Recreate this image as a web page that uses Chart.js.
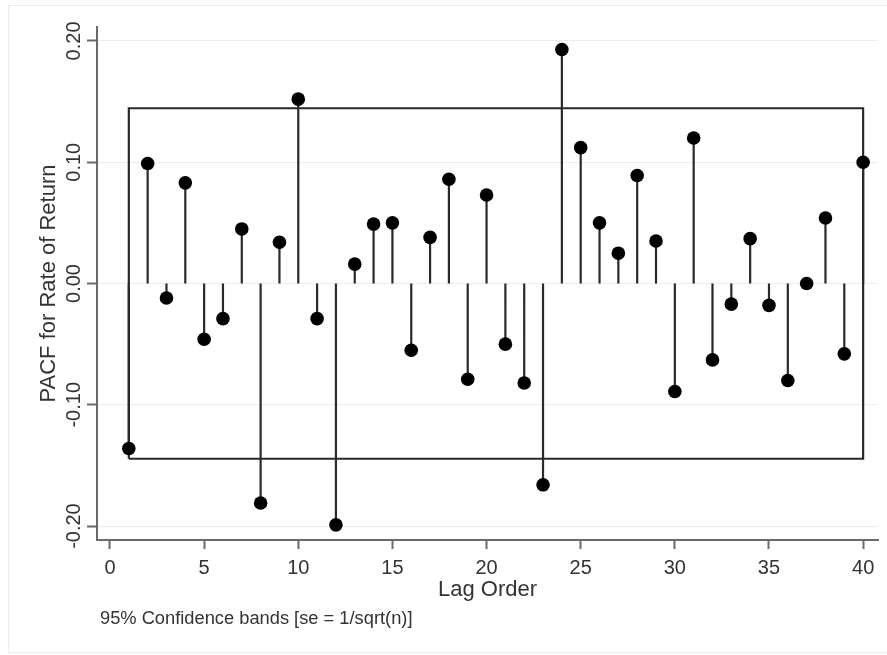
<!DOCTYPE html>
<html>
<head>
<meta charset="utf-8">
<script src="https://cdn.jsdelivr.net/npm/chart.js@4.4.1/dist/chart.umd.min.js"></script>
<style>
	body { margin: 0; background: #fff; }
	canvas { display: block; }
</style>
</head>
<body>
<canvas id="grafico" width="887" height="655"></canvas>
<script>
// defasagens e valores da PACF
const lags = [1, 2, 3, 4, 5, 6, 7, 8, 9, 10, 11, 12, 13, 14, 15, 16, 17, 18, 19, 20,
	21, 22, 23, 24, 25, 26, 27, 28, 29, 30, 31, 32, 33, 34, 35, 36, 37, 38, 39, 40];
const pacf = [-0.136, 0.099, -0.012, 0.083, -0.046, -0.029, 0.045, -0.181, 0.034, 0.152,
	-0.029, -0.199, 0.016, 0.049, 0.050, -0.055, 0.038, 0.086, -0.079, 0.073,
	-0.050, -0.082, -0.166, 0.193, 0.112, 0.050, 0.025, 0.089, 0.035, -0.089,
	0.120, -0.063, -0.017, 0.037, -0.018, -0.080, 0.000, 0.054, -0.058, 0.100];

// faixa de confiança de 95%
const faixaLags = [1, 40];
const faixaValor = 0.1445;

const xTicks = [0, 5, 10, 15, 20, 25, 30, 35, 40];
const yTicks = [-0.2, -0.1, 0, 0.1, 0.2];

const nota = '95% Confidence bands [se = 1/sqrt(n)]';
const corTexto = '#333';
const corEixo = '#6a6a6a';
const fonte = '"Liberation Sans", Arial, sans-serif';

// cada haste vai de zero ao valor, com um null para quebrar a linha
function montaHastes() {
	const pontos = [];
	lags.forEach((lag, i) => {
		pontos.push({ x: lag, y: 0 }, { x: lag, y: pacf[i] }, { x: lag, y: null });
	});
	return pontos;
}

function montaFaixa() {
	const [ini, fim] = faixaLags;
	return [
		{ x: ini, y: -faixaValor },
		{ x: ini, y: faixaValor },
		{ x: fim, y: faixaValor },
		{ x: fim, y: -faixaValor },
		{ x: ini, y: -faixaValor }
	];
}

const pluginTextos = {
	id: 'textos',
	beforeDraw(chart) {
		const ctx = chart.ctx;
		ctx.save();
		ctx.fillStyle = '#fff';
		ctx.fillRect(0, 0, chart.width, chart.height);
		ctx.strokeStyle = '#ececec';
		ctx.lineWidth = 1;
		ctx.beginPath();
		ctx.moveTo(887, 5.5);
		ctx.lineTo(8.5, 5.5);
		ctx.lineTo(8.5, 652.5);
		ctx.lineTo(887, 652.5);
		ctx.stroke();
		ctx.restore();
	},
	afterDraw(chart) {
		const ctx = chart.ctx;
		const escalaY = chart.scales.y;
		ctx.save();
		ctx.fillStyle = corTexto;
		ctx.font = '20px ' + fonte;
		ctx.textAlign = 'center';
		ctx.textBaseline = 'middle';
		// rótulos do eixo Y girados, como no Stata
		escalaY.ticks.forEach(t => {
			const py = escalaY.getPixelForValue(t.value);
			ctx.save();
			ctx.translate(escalaY.right - 23, py);
			ctx.rotate(-Math.PI / 2);
			ctx.fillText(t.value.toFixed(2), 0, 0);
			ctx.restore();
		});
		ctx.font = '18.3px ' + fonte;
		ctx.textAlign = 'left';
		ctx.fillText(nota, chart.chartArea.left + 3, 619);
		ctx.restore();
	}
};

function montaGrafico() {
	const ctx = document.getElementById('grafico').getContext('2d');
	return new Chart(ctx, {
		type: 'scatter',
		data: {
			datasets: [
				{
					label: 'PACF',
					data: lags.map((lag, i) => ({ x: lag, y: pacf[i] })),
					backgroundColor: '#000',
					borderWidth: 0,
					pointRadius: 6.8,
					order: 0
				},
				{
					label: 'hastes',
					data: montaHastes(),
					showLine: true,
					spanGaps: false,
					borderColor: '#2a2a2a',
					borderWidth: 2.2,
					pointRadius: 0,
					order: 1
				},
				{
					label: 'faixa',
					data: montaFaixa(),
					showLine: true,
					borderColor: '#2a2a2a',
					borderWidth: 2.2,
					pointRadius: 0,
					order: 2
				}
			]
		},
		options: {
			responsive: false,
			animation: false,
			layout: {
				padding: { left: 0, right: 9, top: 27, bottom: 52 }
			},
			scales: {
				x: {
					type: 'linear',
					min: -0.69,
					max: 40.79,
					offset: false,
					afterBuildTicks: s => { s.ticks = xTicks.map(v => ({ value: v })); },
					afterFit: s => { s.height = 63; },
					grid: {
						drawOnChartArea: false,
						drawTicks: true,
						tickLength: 9,
						tickColor: corEixo,
						tickWidth: 2
					},
					border: { color: corEixo, width: 2 },
					ticks: {
						color: corTexto,
						font: { family: fonte, size: 20 },
						padding: 7,
						maxRotation: 0,
						callback: v => String(v)
					},
					title: {
						display: true,
						text: 'Lag Order',
						color: corTexto,
						font: { family: fonte, size: 22 },
						padding: { top: 0, bottom: 0 }
					}
				},
				y: {
					min: -0.2115,
					max: 0.2115,
					afterBuildTicks: s => { s.ticks = yTicks.map(v => ({ value: v })); },
					afterFit: s => { s.width = 97; },
					grid: {
						color: '#e6eff0',
						lineWidth: 1,
						drawTicks: true,
						tickLength: 10,
						tickColor: corEixo,
						tickWidth: 2
					},
					border: { color: corEixo, width: 2 },
					ticks: { display: false },
					title: {
						display: true,
						text: 'PACF for Rate of Return',
						color: corTexto,
						font: { family: fonte, size: 22 },
						padding: { top: 36, bottom: 0 }
					}
				}
			},
			plugins: {
				legend: { display: false },
				tooltip: { enabled: false }
			}
		},
		plugins: [pluginTextos]
	});
}

window.onload = () => {
	montaGrafico();
}
</script>
</body>
</html>
